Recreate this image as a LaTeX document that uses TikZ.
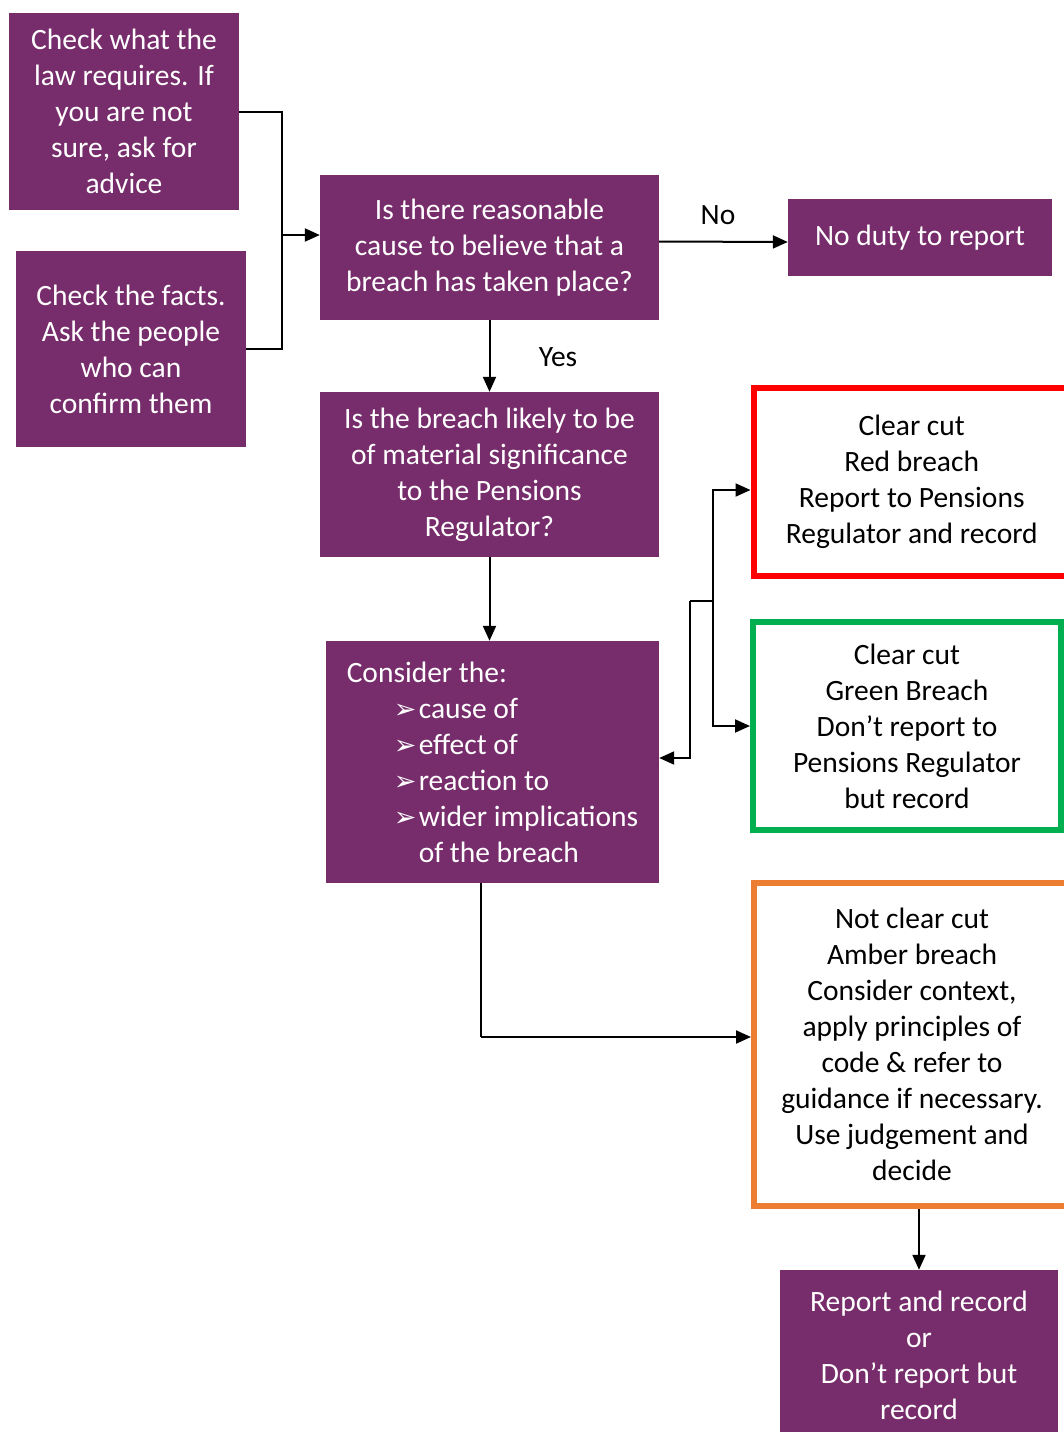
\documentclass[tikz,border=0pt]{standalone}
\usepackage{fontspec}
\setmainfont{Carlito}
\newfontfamily\dejavu{DejaVu Sans}
\usetikzlibrary{arrows.meta}
\definecolor{plum}{RGB}{119,45,107}
\definecolor{rbred}{RGB}{255,0,0}
\definecolor{rbgreen}{RGB}{0,176,80}
\definecolor{rborange}{RGB}{237,125,49}
\newcommand{\blt}{\makebox[25pt][l]{\dejavu\fontsize{27}{27}\selectfont ➢}}
\begin{document}
\begin{tikzpicture}[x=1pt,y=-1pt,
  font=\fontsize{29.5}{36}\selectfont,
  pbox/.style={fill=plum, text=white, align=center, inner sep=0pt},
  cbox/.style={draw, line width=6pt, fill=white, align=center, inner sep=0pt},
  arr/.style={line width=2pt, -{Triangle[length=15pt,width=13pt]}},
  ln/.style={line width=2pt},
  lbl/.style={inner sep=0pt}]
\useasboundingbox (0,0) rectangle (1064,1432);

\node[pbox, minimum width=230pt, minimum height=197pt] (law) at (124,111.5)
  {Check what the\\law requires. If\\you are not\\sure, ask for\\advice};
\node[pbox, minimum width=230pt, minimum height=196pt] (facts) at (131,349)
  {Check the facts.\\Ask the people\\who can\\confirm them};
\node[pbox, minimum width=339pt, minimum height=145pt] (cause) at (489.5,247.5)
  {Is there reasonable\\cause to believe that a\\breach has taken place?};
\node[pbox, minimum width=264pt, minimum height=77pt] (nodut) at (920,237.5)
  {No duty to report};
\node[pbox, minimum width=339pt, minimum height=165pt] (sig) at (489.5,474.5)
  {Is the breach likely to be\\of material significance\\to the Pensions\\Regulator?};
\node[pbox, minimum width=333pt, minimum height=242pt, align=left] (consider) at (492.5,762)
  {Consider the:\\
   \hspace*{47pt}\blt cause of\\
   \hspace*{47pt}\blt effect of\\
   \hspace*{47pt}\blt reaction to\\
   \hspace*{47pt}\blt wider implications\\
   \hspace*{72pt}of the breach};
\node[cbox, draw=rbred, minimum width=316.5pt, minimum height=188pt] (red) at (911.75,482)
  {Clear cut\\Red breach\\Report to Pensions\\Regulator and record};
\node[cbox, draw=rbgreen, minimum width=308pt, minimum height=208pt] (green) at (907,726)
  {Clear cut\\Green Breach\\Don’t report to\\Pensions Regulator\\but record};
\node[cbox, draw=rborange, minimum width=316pt, minimum height=323pt] (amber) at (912,1044.5)
  {Not clear cut\\Amber breach\\Consider context,\\apply principles of\\code \& refer to\\guidance if necessary.\\Use judgement and\\decide};
\node[pbox, minimum width=278pt, minimum height=170pt] (fin) at (919,1355)
  {Report and record\\or\\Don’t report but\\record};

\node[lbl] (no) at (718,215) {No};
\node[lbl] (yes) at (558,357) {Yes};

% inputs to first question
\coordinate (j1) at (282,235);
\draw[ln] (law.east) -| (j1);
\draw[ln] (facts.east) -| (j1);
\draw[arr] (j1) -- (j1 -| cause.west);

\draw[arr] ([yshift=6pt]cause.east) -- ([yshift=-4.5pt]nodut.west);
\draw[arr] (cause.south) -- (cause.south |- sig.north);
\draw[arr] (sig.south) -- (sig.south |- consider.north);

% outcomes
\coordinate (j2) at (713,601);
\coordinate (j3) at (690,601);
\draw[arr] (j2) |- ([yshift=-8pt]red.west);
\draw[arr] (j2) |- (green.west);
\draw[ln] (j2) -- (j3);
\draw[arr] (j3) |- ([yshift=4pt]consider.east);

\coordinate (j4) at (481,1037);
\draw[ln] (consider.south -| j4) -- (j4);
\draw[arr] (j4) -- (j4 -| amber.west);

\draw[arr] (fin.north |- amber.south) -- (fin.north);
\end{tikzpicture}
\end{document}
